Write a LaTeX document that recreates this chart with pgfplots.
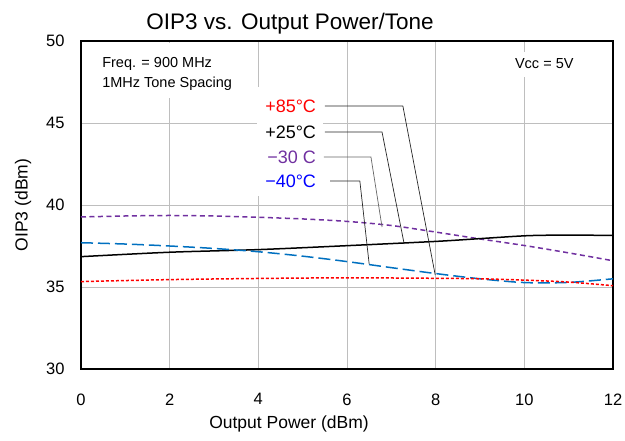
\documentclass[border=0pt]{standalone}
\usepackage{fontspec}
\setmainfont{Liberation Sans}
\usepackage{pgfplots}
\pgfplotsset{compat=1.18}

\definecolor{cpurple}{HTML}{7030A0}
\definecolor{cblue}{HTML}{0070C0}
\definecolor{gridgray}{RGB}{190,190,190}

\newcommand{\fs}[1]{\fontsize{#1bp}{1.2\dimexpr#1bp\relax}\selectfont}

\begin{document}
\begin{tikzpicture}

\begin{axis}[
    at={(0,0)}, anchor=south west,
    scale only axis,
    width=532bp, height=328bp,
    xmin=0, xmax=12,
    ymin=30, ymax=50,
    xtick={0,2,...,12},
    ytick={30,35,...,50},
    major tick length=0pt,
    grid=major,
    grid style={gridgray, line width=0.9bp},
    axis line style={black, line width=1.6bp},
    /pgf/number format/assume math mode=true,
    ticklabel style={font=\fs{16.5}},
    xticklabel style={yshift=-21bp},
    yticklabel style={xshift=-13bp},
    clip=false,
]

% text boxes (white background, hide grid)
\fill[white] (axis cs:0.2,49.9) rectangle (axis cs:3.97,46.5);
\fill[white] (axis cs:3.97,47.2) rectangle (axis cs:5.46,40.55);
\fill[white] (axis cs:9.45,49.3) rectangle (axis cs:10.92,47.8);

\node[anchor=west, font=\fs{14.5}] at (axis cs:0.40,48.6) {Freq. = 900 MHz};
\node[anchor=west, font=\fs{14.5}] at (axis cs:0.40,47.4) {1MHz Tone Spacing};
\node[font=\fs{14.5}] at (axis cs:10.45,48.6) {Vcc = 5V};

% -30 C
\addplot[cpurple, line width=1.5bp, dash pattern=on 5bp off 3.5bp, smooth] coordinates {
 (0,39.27) (1,39.33) (2,39.36) (3,39.33) (4,39.25) (5,39.15) (6,39.0)
 (7,38.75) (8,38.35) (9,37.93) (10,37.53) (11,37.08) (12,36.6)
};
% +25 C
\addplot[black, line width=1.5bp, smooth] coordinates {
 (0,36.85) (2,37.12) (4,37.28) (6,37.52) (8,37.78) (9,37.95) (10,38.12)
 (10.7,38.16) (12,38.15)
};
% -40 C
\addplot[cblue, line width=1.5bp, dash pattern=on 12bp off 5bp, smooth] coordinates {
 (0,37.7) (1,37.62) (2,37.5) (3,37.35) (4,37.15) (5,36.88) (6,36.55)
 (7,36.18) (8,35.82) (9,35.5) (10,35.27) (11,35.28) (12,35.5)
};
% +85 C
\addplot[red, line width=1.5bp, dash pattern=on 3bp off 2bp, smooth] coordinates {
 (0,35.33) (2,35.45) (4,35.52) (6,35.56) (8,35.53) (9,35.5) (10,35.42)
 (11,35.3) (12,35.08)
};

% curve labels with leader lines
\node[anchor=east, red, font=\fs{18}] at (axis cs:5.38,46.04) {+85°C};
\node[anchor=east, black, font=\fs{18}] at (axis cs:5.38,44.45) {+25°C};
\node[anchor=east, cpurple, font=\fs{18}] at (axis cs:5.38,42.93) {−30 C};
\node[anchor=east, blue, font=\fs{18}] at (axis cs:5.38,41.46) {−40°C};

\draw[black!85, line width=0.7bp] (axis cs:5.50,46.04) -- (axis cs:7.26,46.04) -- (axis cs:7.99,35.73);
\draw[black!85, line width=0.7bp] (axis cs:5.50,44.45) -- (axis cs:6.79,44.45) -- (axis cs:7.29,37.62);
\draw[black!60, line width=0.7bp] (axis cs:5.48,42.93) -- (axis cs:6.54,42.93) -- (axis cs:6.79,38.66);
\draw[black!85, line width=0.7bp] (axis cs:5.62,41.46) -- (axis cs:6.29,41.46) -- (axis cs:6.50,36.40);

% title and axis labels
\node[font=\fs{22.5}] at ([yshift=17bp]rel axis cs:0.393,1) {OIP3 vs. Output Power/Tone};
\node[font=\fs{17.5}] at ([yshift=-55bp]rel axis cs:0.391,0) {Output Power (dBm)};
\node[font=\fs{17.5}, rotate=90] at ([xshift=-58bp]rel axis cs:0,0.5) {OIP3 (dBm)};

\end{axis}

\pgfresetboundingbox
\useasboundingbox (-81bp,-72bp) rectangle (544bp,369bp);
\end{tikzpicture}
\end{document}
